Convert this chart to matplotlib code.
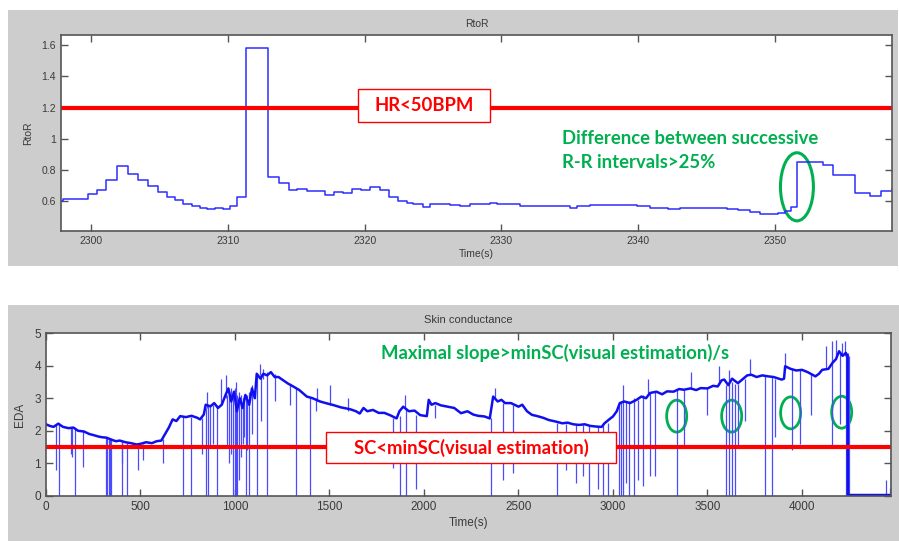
import numpy as np
import matplotlib
matplotlib.use('Agg')
import matplotlib.pyplot as plt
from matplotlib.patches import Rectangle, Ellipse

# RtoR step trace (step starts, seconds) and values
rr_t = [2297.5, 2297.97, 2299.77, 2300.41, 2301.09, 2301.87, 2302.72, 2303.41, 2304.18,
        2304.87, 2305.53, 2306.13, 2306.74, 2307.35, 2307.96, 2308.49, 2309.06, 2309.62,
        2310.15, 2310.69, 2311.32, 2312.91, 2313.71, 2314.47, 2315.07, 2315.76, 2316.49,
        2317.10, 2317.78, 2318.44, 2319.07, 2319.73, 2320.39, 2321.12, 2321.80, 2322.41,
        2323.07, 2323.55, 2324.24, 2324.77, 2326.23, 2326.96, 2327.70, 2328.43, 2329.16,
        2329.67, 2330.26, 2331.35, 2332.23, 2334.98, 2335.50, 2336.45, 2339.90, 2340.85,
        2342.17, 2343.05, 2344.51, 2346.48, 2347.29, 2348.17, 2348.90, 2349.63, 2350.21,
        2350.73, 2351.16, 2351.60, 2353.50, 2354.23, 2355.84, 2356.94, 2357.74, 2358.55]
rr_v = [0.60, 0.617, 0.65, 0.672, 0.736, 0.823, 0.774, 0.736, 0.697,
        0.661, 0.629, 0.608, 0.586, 0.569, 0.56, 0.548, 0.56, 0.552,
        0.571, 0.629, 1.584, 0.757, 0.72, 0.672, 0.676, 0.663, 0.667,
        0.642, 0.661, 0.655, 0.676, 0.672, 0.693, 0.672, 0.629, 0.601,
        0.59, 0.586, 0.565, 0.58, 0.577, 0.567, 0.584, 0.58, 0.592,
        0.586, 0.58, 0.571, 0.567, 0.56, 0.571, 0.575, 0.567, 0.56,
        0.554, 0.556, 0.56, 0.552, 0.542, 0.531, 0.522, 0.518, 0.526,
        0.539, 0.565, 0.853, 0.834, 0.77, 0.656, 0.633, 0.663, 0.68]

# EDA trace
eda_t = [0, 20, 40, 65, 90, 120, 145, 170, 200, 230, 250, 280, 300, 320, 350, 370, 390,
         420, 450, 480, 500, 530, 560, 585, 610, 630, 650, 670, 690, 710, 740, 770, 800,
         815, 835, 845, 870, 890, 910, 930, 950, 965, 980, 995, 1010, 1025, 1040, 1055,
         1075, 1090, 1105, 1115, 1135, 1150, 1170, 1190, 1210, 1230, 1255, 1280, 1308,
         1340, 1380, 1410, 1450, 1480, 1520, 1560, 1610, 1640, 1660, 1680, 1700, 1730,
         1760, 1790, 1820, 1855, 1870, 1890, 1920, 1950, 1980, 2015, 2025, 2040, 2060,
         2090, 2125, 2160, 2196, 2230, 2260, 2286, 2320, 2348, 2366, 2390, 2410, 2429,
         2460, 2500, 2520, 2545, 2571, 2600, 2630, 2661, 2700, 2732, 2760, 2790, 2821,
         2850, 2880, 2911, 2940, 2955, 2980, 3000, 3020, 3036, 3060, 3090, 3125, 3150,
         3175, 3196, 3230, 3260, 3286, 3320, 3350, 3375, 3410, 3440, 3464, 3500, 3530,
         3554, 3575, 3589, 3610, 3630, 3661, 3690, 3710, 3732, 3760, 3790, 3821, 3850,
         3893, 3905, 3911, 3940, 3970, 4000, 4030, 4071, 4090, 4107, 4140, 4161, 4180,
         4196, 4215, 4232, 4241, 4243, 4470]
eda_v = [2.2, 2.15, 2.12, 2.22, 2.12, 2.08, 2.1, 2.0, 1.98, 1.9, 1.87, 1.82, 1.8, 1.79,
         1.72, 1.68, 1.7, 1.65, 1.62, 1.58, 1.6, 1.65, 1.62, 1.68, 1.7, 1.9, 2.1, 2.35, 2.3,
         2.45, 2.42, 2.46, 2.4, 2.35, 2.5, 2.8, 2.75, 2.85, 2.7, 2.8, 3.1, 3.3, 2.9, 3.2,
         2.6, 3.0, 2.7, 3.1, 2.8, 3.3, 3.0, 3.75, 3.6, 3.75, 3.7, 3.8, 3.65, 3.65, 3.55,
         3.45, 3.36, 3.25, 3.05, 3.0, 2.9, 2.85, 2.79, 2.72, 2.66, 2.6, 2.53, 2.7, 2.6,
         2.64, 2.55, 2.55, 2.48, 2.38, 2.6, 2.74, 2.6, 2.62, 2.48, 2.45, 2.95, 2.8, 2.85,
         2.78, 2.74, 2.7, 2.54, 2.6, 2.5, 2.46, 2.44, 2.38, 3.05, 2.9, 2.95, 2.85, 2.85,
         2.74, 2.8, 2.6, 2.49, 2.45, 2.4, 2.33, 2.28, 2.23, 2.25, 2.2, 2.18, 2.2, 2.15,
         2.13, 2.12, 2.23, 2.35, 2.44, 2.6, 2.85, 2.9, 2.85, 2.95, 3.05, 3.0, 3.16, 3.2,
         3.12, 3.21, 3.2, 3.28, 3.26, 3.3, 3.25, 3.31, 3.3, 3.38, 3.36, 3.55, 3.57, 3.4,
         3.6, 3.46, 3.6, 3.7, 3.72, 3.65, 3.7, 3.67, 3.65, 3.57, 3.6, 3.98, 3.9, 3.85,
         3.87, 3.8, 3.67, 3.75, 3.87, 3.9, 4.08, 4.2, 4.44, 4.3, 4.39, 4.3, 0.03, 0.03]

# EDA artefact spikes: time, low end, high end
spike_t = [71, 153, 318, 325, 332, 338, 342, 404, 427, 727, 765, 847, 858, 903, 992, 1000,
           1006, 1012, 1058, 1076, 1115, 1168, 1323, 1397, 1873, 1907, 2354, 2705, 2875, 2946,
           2973, 3030, 3040, 3053, 3085, 3110, 3339, 3598, 3616, 3630, 3643, 3804, 3839, 4232,
           4245, 4250,
           53, 130, 136, 194, 400, 489, 515, 617, 824, 870, 885, 960, 970, 980, 1020, 1030,
           1040, 1050, 1065, 1090, 1140, 1210, 1290, 1430, 1838, 1960, 2060, 2420, 2473, 2750,
           2804, 2839, 2920, 3070, 3130, 3161, 3196, 3223, 3375, 3500, 3661, 3700, 3857, 3946,
           3991, 4050, 4161, 4200,
           850, 928, 955, 1005, 1133, 1150, 1432, 1503, 1600, 1900, 2375, 3053, 3187, 3411,
           3562, 3616, 3723, 3911, 4125, 4160, 4180, 4210, 4230,
           4447, 4465, 4470]
spike_lo = [0] * 46 + [
           0.8, 1.3, 1.2, 0.9, 1.0, 0.8, 1.1, 1.0, 1.3, 1.5, 1.6, 1.5, 1.0, 1.3, 0.5, 1.2,
           1.6, 1.8, 1.4, 1.9, 2.3, 2.9, 2.8, 2.6, 0.85, 0.2, 2.4, 0.5, 0.7, 0.8,
           0.4, 0.6, 0.2, 0.4, 0.5, 0.3, 0.6, 0.6, 1.5, 2.5, 1.5, 2.3, 1.8, 1.4,
           1.6, 2.5, 1.5, 2.2,
           2.7, 2.8, 3.0, 3.2, 3.7, 3.6, 2.9, 2.8, 2.6, 2.7, 3.0, 2.9, 3.1, 3.3,
           3.4, 3.5, 3.7, 3.9, 3.9, 4.1, 4.2, 4.3, 4.3,
           0.02, 0.02, 0]
spike_hi = [2.2, 2.05, 1.8, 1.8, 1.78, 1.78, 1.75, 1.65, 1.63, 2.45, 2.42, 2.7, 2.75, 2.8,
            3.2, 3.3, 3.2, 3.1, 3.0, 3.2, 3.7, 3.8, 3.35, 3.0, 2.45, 2.7, 2.4, 2.25, 2.15, 2.2,
            2.25, 2.8, 2.9, 2.9, 2.9, 3.0, 3.25, 3.4, 3.5, 3.5, 3.45, 3.7, 3.65, 4.4,
            4.4, 4.3,
            2.2, 2.1, 2.1, 2.0, 1.65, 1.6, 1.6, 1.75, 2.4, 2.75, 2.78, 3.1, 3.2, 3.3, 3.2, 3.1,
            3.0, 2.95, 3.1, 3.4, 3.75, 3.75, 3.4, 3.0, 2.4, 2.5, 2.8, 2.85, 2.8, 2.2,
            2.2, 2.18, 2.15, 2.9, 2.95, 3.1, 3.15, 3.2, 3.25, 3.33, 3.45, 3.6, 3.6, 3.9,
            3.88, 3.75, 4.1, 4.4,
            3.2, 3.6, 3.7, 3.5, 4.05, 3.9, 3.3, 3.4, 3.0, 3.1, 3.3, 3.4, 3.6, 3.8,
            4.0, 3.85, 4.2, 4.4, 4.6, 4.75, 4.8, 4.7, 4.75,
            0.5, 0.25, 2.85]

hr_limit = 1.2
sc_limit = 1.5
rr_marks = [(2351.6, 0.693)]
eda_marks_t = [3337, 3628, 3940, 4210]
eda_marks_v = [2.45, 2.45, 2.55, 2.57]

GRAY = '#cdcdcd'
GREEN = '#00b050'
RED = '#ff0000'
BLUE = '#2d2dff'
TXT = '#3a3a3a'
ANN = ['Lato', 'DejaVu Sans']

plt.rcParams['font.family'] = ['Liberation Sans', 'DejaVu Sans']

fig = plt.figure(figsize=(8.99, 5.41), dpi=100)
W, H = 899, 541


def px_rect(x0, y0, x1, y1):
    # pixel box (top-left origin) -> figure fraction
    return (x0 / W, 1 - y1 / H, (x1 - x0) / W, (y1 - y0) / H)


# gray MATLAB figure panels
for r in [px_rect(8, 10, 898, 266), px_rect(8, 305, 899, 541)]:
    fig.add_artist(Rectangle(r[:2], r[2], r[3], transform=fig.transFigure,
                             facecolor=GRAY, edgecolor='none', zorder=-5))


def style(ax, fs):
    for s in ax.spines.values():
        s.set_color('#555555')
        s.set_linewidth(1.2)
    ax.tick_params(direction='in', length=5, width=1, colors='#555555',
                   labelcolor=TXT, labelsize=fs, top=True, right=True)


# top panel: RtoR
ax1 = fig.add_axes(px_rect(61, 35, 892, 231))
ax1.step(rr_t, rr_v, where='post', color=BLUE, lw=1.1)
ax1.axhline(hr_limit, color=RED, lw=3)
ax1.set_xlim(2297.8, 2358.55)
ax1.set_ylim(0.41, 1.665)
ax1.set_xticks([2300, 2310, 2320, 2330, 2340, 2350])
ax1.set_yticks([0.6, 0.8, 1.0, 1.2, 1.4, 1.6])
ax1.set_yticklabels(['0.6', '0.8', '1', '1.2', '1.4', '1.6'])
style(ax1, 7.5)
ax1.set_title('RtoR', fontsize=7.5, color=TXT, pad=6)
ax1.set_xlabel('Time(s)', fontsize=7.5, color=TXT, labelpad=2)
ax1.set_ylabel('RtoR', fontsize=7.5, color=TXT, labelpad=6)
for (cx, cy) in rr_marks:
    ax1.add_patch(Ellipse((cx, cy), 2.41, 0.436, fill=False, edgecolor=GREEN, lw=2.2))

# bottom panel: EDA
ax2 = fig.add_axes(px_rect(46, 333, 891, 496))
ax2.vlines(spike_t, spike_lo, spike_hi, color='#4a4aff', lw=0.9)
ax2.plot(eda_t, eda_v, color='#1010ee', lw=1.8)
ax2.axhline(sc_limit, color=RED, lw=3)
ax2.set_xlim(0, 4471)
ax2.set_ylim(0, 5)
ax2.set_xticks([0, 500, 1000, 1500, 2000, 2500, 3000, 3500, 4000])
ax2.set_yticks([0, 1, 2, 3, 4, 5])
style(ax2, 8.5)
ax2.set_title('Skin conductance', fontsize=8, color=TXT, pad=7)
ax2.set_xlabel('Time(s)', fontsize=8.5, color=TXT, labelpad=3)
ax2.set_ylabel('EDA', fontsize=8.5, color=TXT, labelpad=6)
for cx, cy in zip(eda_marks_t, eda_marks_v):
    ax2.add_patch(Ellipse((cx, cy), 106, 0.98, fill=False, edgecolor=GREEN, lw=2))

# callout boxes
for (x0, y0, x1, y1), label in [((358, 89, 490, 122), 'HR<50BPM'),
                                 ((326, 432, 616, 463), 'SC<minSC(visual estimation)')]:
    r = px_rect(x0, y0, x1, y1)
    fig.add_artist(Rectangle(r[:2], r[2], r[3], transform=fig.transFigure,
                             facecolor='white', edgecolor=RED, lw=1, zorder=5))
    fig.text(r[0] + r[2] / 2, r[1] + r[3] / 2, label, ha='center', va='center',
             color=RED, fontsize=13.3, fontweight='bold', family=ANN, zorder=6)

fig.text(562 / W, 1 - 138 / H, 'Difference between successive', ha='left', va='center',
         color=GREEN, fontsize=13.3, fontweight='bold', family=ANN)
fig.text(562 / W, 1 - 162 / H, 'R-R intervals>25%', ha='left', va='center',
         color=GREEN, fontsize=13.3, fontweight='bold', family=ANN)
fig.text(381 / W, 1 - 353 / H, 'Maximal slope>minSC(visual estimation)/s', ha='left',
         va='center', color=GREEN, fontsize=13.3, fontweight='bold', family=ANN)

fig.savefig('out.png', dpi=100)
